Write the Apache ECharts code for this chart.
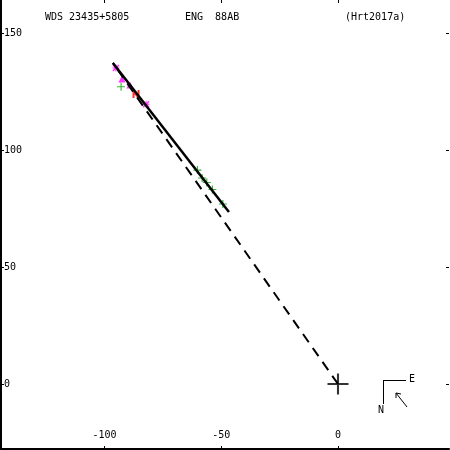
<!DOCTYPE html>
<html><head><meta charset="utf-8">
<script src="https://cdn.jsdelivr.net/npm/echarts@6/dist/echarts.min.js"></script>
<style>html,body{margin:0;padding:0;background:#fff}#c{width:450px;height:450px}</style>
</head><body><div id="c"></div>
<script>
// ---- data ----
var xTicks = [-100, -50, 0];
var yTicks = [0, 50, 100, 150];
var orbitX = [-96.4, -46.7];
var orbitY = [137.5, 73.7];
var nodeX = [0, -96.4];
var nodeY = [0, 137.5];
var greenX = [-60.2, -58.2, -56.2, -53.8, -49.3, -92.9];
var greenY = [91.6, 88.2, 86.3, 83.3, 77.1, 127.3];
var magTriX = [-92.5, -89.1];
var magTriY = [130.6, 128.1];
var magStarX = [-95.1, -82.2];
var magStarY = [135.3, 119.8];
var redX = [-86.5];
var redY = [124.2];
var primary = [[0, 0]];
var titleTexts = ['WDS 23435+5805', 'ENG  88AB', '(Hrt2017a)'];

function pairs(xs, ys) { return xs.map(function (x, i) { return [x, ys[i]]; }); }

var font = 'DejaVu Sans Mono';
var chart = echarts.init(document.getElementById('c'), null, {renderer: 'canvas'});
var axisCommon = {
  type: 'value', splitLine: {show: false},
};
chart.setOption({
  animation: false,
  backgroundColor: '#fff',
  grid: {left: 1, right: 1, top: 0, bottom: 1},
  xAxis: [
    Object.assign({}, axisCommon, {
      min: -144.33, max: 47.54, position: 'bottom',
      axisLine: {show: true, onZero: false, lineStyle: {color: '#000', width: 2}},
      axisTick: {show: true, inside: true, length: 3, customValues: xTicks, lineStyle: {color: '#000'}},
      axisLabel: {show: true, inside: true, margin: 9, customValues: xTicks, color: '#000', fontFamily: font, fontSize: 10}
    }),
    Object.assign({}, axisCommon, {
      min: -144.33, max: 47.54, position: 'top',
      axisLine: {show: false, onZero: false},
      axisTick: {show: true, inside: true, length: 3, customValues: xTicks, lineStyle: {color: '#000'}},
      axisLabel: {show: false}
    })
  ],
  yAxis: [
    Object.assign({}, axisCommon, {
      min: -27.84, max: 164.45, position: 'left',
      axisLine: {show: true, onZero: false, lineStyle: {color: '#000', width: 2}},
      axisTick: {show: true, inside: true, length: 3, customValues: yTicks, lineStyle: {color: '#000'}},
      axisLabel: {show: true, inside: true, margin: 3, customValues: yTicks, color: '#000', fontFamily: font, fontSize: 10, align: 'left'}
    }),
    Object.assign({}, axisCommon, {
      min: -27.84, max: 164.45, position: 'right',
      axisLine: {show: false, onZero: false},
      axisTick: {show: true, inside: true, length: 3, customValues: yTicks, lineStyle: {color: '#000'}},
      axisLabel: {show: false}
    })
  ],
  series: [
    {type: 'line', data: pairs(nodeX, nodeY), symbol: 'none',
      lineStyle: {color: '#000', width: 2, type: [10, 7]}},
    {type: 'line', data: pairs(orbitX, orbitY), symbol: 'none',
      lineStyle: {color: '#000', width: 2.5}},
    {type: 'scatter', data: pairs(greenX, greenY), symbol: 'path://M3,0h1v7h-1z M0,3h7v1h-7z', symbolSize: 8,
      itemStyle: {color: '#00a000'}},
    {type: 'scatter', data: pairs(magTriX, magTriY), symbol: 'triangle', symbolSize: 7,
      itemStyle: {color: '#ff00ff'}},
    {type: 'scatter', data: pairs(magStarX, magStarY),
      symbol: 'path://M3,0h1v7h-1z M0,3h7v1h-7z M0,1l1,-1l6,6l-1,1z M6,0l1,1l-6,6l-1,-1z', symbolSize: 7,
      itemStyle: {color: '#ff00ff'}},
    {type: 'scatter', data: pairs(redX, redY),
      symbol: 'path://M0,0h2v7h-2z M5,0h2v7h-2z M0,0h2l5,5v2h-2l-5,-5z', symbolSize: [7, 8],
      itemStyle: {color: '#ff0000'}},
    {type: 'scatter', data: primary, symbol: 'path://M9,0h2v20h-2z M0,9h20v2h-20z', symbolSize: 21,
      itemStyle: {color: '#000'}}
  ],
  graphic: [
    {type: 'text', left: 45, top: 12, style: {text: titleTexts[0], font: '10px "DejaVu Sans Mono"', fill: '#000'}},
    {type: 'text', left: 185, top: 12, style: {text: titleTexts[1], font: '10px "DejaVu Sans Mono"', fill: '#000'}},
    {type: 'text', left: 345, top: 12, style: {text: titleTexts[2], font: '10px "DejaVu Sans Mono"', fill: '#000'}},
    {type: 'line', shape: {x1: 383, y1: 380.5, x2: 406, y2: 380.5}, style: {stroke: '#000', lineWidth: 1}},
    {type: 'line', shape: {x1: 383.5, y1: 380, x2: 383.5, y2: 404}, style: {stroke: '#000', lineWidth: 1}},
    {type: 'text', left: 409, top: 374, style: {text: 'E', font: '10px "DejaVu Sans Mono"', fill: '#000'}},
    {type: 'text', left: 378, top: 405, style: {text: 'N', font: '10px "DejaVu Sans Mono"', fill: '#000'}},
    {type: 'line', shape: {x1: 396, y1: 393, x2: 407, y2: 407}, style: {stroke: '#000', lineWidth: 1}},
    {type: 'polyline', shape: {points: [[396, 398], [396, 393], [401, 394]]}, style: {stroke: '#000', lineWidth: 1, fill: null}}
  ]
});
</script></body></html>
